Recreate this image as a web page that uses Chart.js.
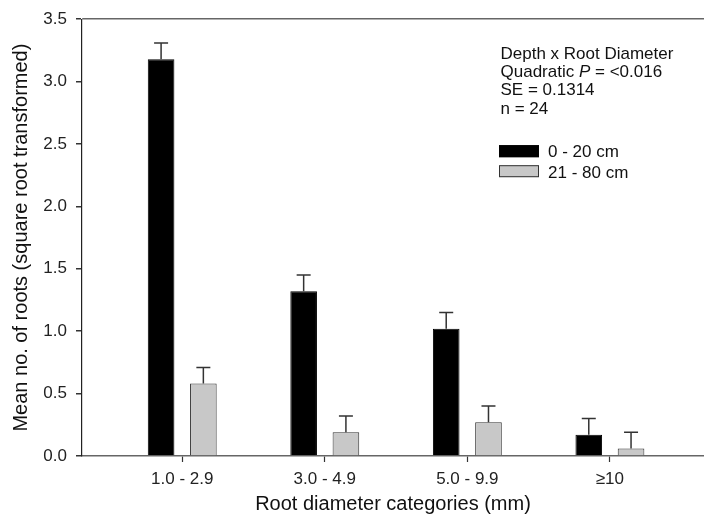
<!DOCTYPE html>
<html>
<head>
<meta charset="utf-8">
<script src="https://cdn.jsdelivr.net/npm/chart.js@4/dist/chart.umd.min.js"></script>
<style>
  html, body { margin: 0; padding: 0; background: #fff; }
  #wrap { width: 704px; height: 516px; position: relative; }
</style>
</head>
<body>
<div id="wrap"><canvas id="c"></canvas></div>
<script>
// ---- data ----
const categories = ['1.0 - 2.9', '3.0 - 4.9', '5.0 - 9.9', '\u226510'];
const shallow = [3.18, 1.32, 1.02, 0.17];   // 0 - 20 cm
const deep = [0.58, 0.19, 0.27, 0.06];      // 21 - 80 cm
const shallowSE = [0.13, 0.13, 0.13, 0.13];
const deepSE = [0.13, 0.13, 0.13, 0.13];
const seriesLabels = ['0 - 20 cm', '21 - 80 cm'];
const yTicks = [0, 0.5, 1.0, 1.5, 2.0, 2.5, 3.0, 3.5];
const noteLines = [
  [{t: 'Depth x Root Diameter'}],
  [{t: 'Quadratic '}, {t: 'P', i: true}, {t: ' = <0.016'}],
  [{t: 'SE = 0.1314'}],
  [{t: 'n = 24'}]
];

const FONT = '"Liberation Sans", Arial, Helvetica, sans-serif';
const positions = categories.map((c, i) => i + 1);

const errorBars = {
  id: 'errorBars',
  afterDatasetsDraw(chart) {
    const ctx = chart.ctx;
    const ys = chart.scales.y;
    chart.data.datasets.forEach((ds, di) => {
      const meta = chart.getDatasetMeta(di);
      meta.data.forEach((el, i) => {
        const v = ds.data[i].y;
        const top = ys.getPixelForValue(v + ds.se[i]);
        ctx.save();
        ctx.strokeStyle = '#333';
        ctx.lineWidth = 1.5;
        ctx.beginPath();
        ctx.moveTo(el.x, el.y);
        ctx.lineTo(el.x, top);
        ctx.moveTo(el.x - 7, top);
        ctx.lineTo(el.x + 7, top);
        ctx.stroke();
        ctx.restore();
      });
    });
  }
};

const annot = {
  id: 'annot',
  afterDraw(chart) {
    const ctx = chart.ctx;
    const a = chart.chartArea;
    const x0 = a.left + 418.5;
    let y = a.top + 39.5;
    ctx.save();
    ctx.fillStyle = '#111';
    ctx.textBaseline = 'alphabetic';
    ctx.textAlign = 'left';
    noteLines.forEach(line => {
      let x = x0;
      line.forEach(seg => {
        ctx.font = (seg.i ? 'italic ' : '') + '17px ' + FONT;
        ctx.fillText(seg.t, x, y);
        x += ctx.measureText(seg.t).width;
      });
      y += 18.3;
    });
    // legend
    ctx.font = '17px ' + FONT;
    chart.data.datasets.forEach((ds, i) => {
      const by = a.top + 126 + i * 20;
      ctx.fillStyle = ds.backgroundColor;
      ctx.fillRect(a.left + 417, by, 40, 12);
      ctx.strokeStyle = ds.borderColor;
      ctx.lineWidth = 1;
      ctx.strokeRect(a.left + 417.5, by + 0.5, 39, 11);
      ctx.fillStyle = '#111';
      ctx.fillText(ds.label, a.left + 466, by + 11.5 + i * 1);
    });
    ctx.restore();
  }
};

new Chart(document.getElementById('c'), {
  type: 'bar',
  data: {
    datasets: [
      {
        label: seriesLabels[0],
        data: shallow.map((v, i) => ({x: positions[i], y: v})),
        se: shallowSE,
        backgroundColor: '#000000',
        borderColor: '#000000',
        borderWidth: 1
      },
      {
        label: seriesLabels[1],
        data: deep.map((v, i) => ({x: positions[i], y: v})),
        se: deepSE,
        backgroundColor: '#c8c8c8',
        borderColor: '#333333',
        borderWidth: 1
      }
    ]
  },
  options: {
    responsive: true,
    maintainAspectRatio: false,
    animation: false,
    categoryPercentage: 0.593,
    barPercentage: 0.63,
    layout: { padding: { top: 17, right: 0, left: 0, bottom: 0 } },
    plugins: {
      legend: { display: false },
      tooltip: { enabled: false }
    },
    scales: {
      x: {
        type: 'linear',
        min: 0.297,
        max: 4.66,
        offset: false,
        afterBuildTicks: (axis) => { axis.ticks = positions.map(v => ({value: v})); },
        afterFit: (axis) => { axis.height = 60; },
        grid: {
          offset: false,
          drawOnChartArea: false,
          drawTicks: true,
          tickLength: 6,
          tickColor: '#333',
          tickWidth: 1.2
        },
        border: { display: true, color: '#666', width: 1.5 },
        ticks: {
          autoSkip: false,
          maxRotation: 0,
          padding: 7,
          color: '#222',
          font: { family: FONT, size: 17 },
          callback: (v) => categories[v - 1]
        },
        title: {
          display: true,
          text: 'Root diameter categories (mm)',
          color: '#111',
          font: { family: FONT, size: 20 },
          padding: { top: 0, bottom: 0 }
        }
      },
      y: {
        min: 0,
        max: 3.5,
        afterBuildTicks: (axis) => { axis.ticks = yTicks.map(v => ({value: v})); },
        afterFit: (axis) => { axis.width = 82; },
        grid: {
          drawOnChartArea: true,
          drawTicks: true,
          tickLength: 6,
          tickColor: '#333',
          color: (c) => (c.tick && c.tick.value === 3.5) ? '#666' : 'rgba(0,0,0,0)',
          lineWidth: 1.5
        },
        border: { display: true, color: '#222', width: 1.2 },
        ticks: {
          padding: 9,
          color: '#222',
          font: { family: FONT, size: 17 },
          callback: (v) => Number(v).toFixed(1)
        },
        title: {
          display: true,
          text: 'Mean no. of roots (square root transformed)',
          color: '#111',
          font: { family: FONT, size: 20 },
          padding: { top: 9, bottom: 0 }
        }
      }
    }
  },
  plugins: [errorBars, annot]
});
</script>
</body>
</html>
